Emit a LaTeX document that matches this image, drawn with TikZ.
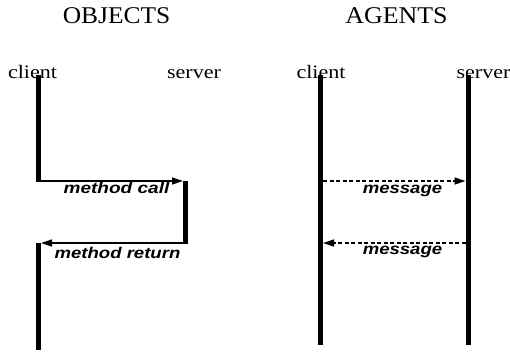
\documentclass[tikz,border=0pt]{standalone}
\usepackage{fontspec}
\setmainfont{Liberation Serif}
\newfontfamily\lsans{Liberation Sans}
\usetikzlibrary{arrows.meta}
\begin{document}
\begin{tikzpicture}[x=1pt,y=-1pt,
  title/.style={anchor=base,inner sep=0pt,font=\fontsize{24}{24}\selectfont},
  role/.style={anchor=base,inner sep=0pt,font=\fontsize{19}{19}\selectfont},
  msg/.style={anchor=base,inner sep=0pt,font=\lsans\bfseries\itshape\fontsize{15.6}{16}\selectfont},
  life/.style={line width=5pt,line cap=butt},
  call/.style={line width=1.3pt,-{Triangle[length=11pt,width=7pt]}},
  async/.style={call,dash pattern=on 4pt off 2.5pt}]
\useasboundingbox (0,0) rectangle (510,351);
% titles
\node[title] (t1) at (116.5,23) {\scalebox{1.06}[1]{OBJECTS}};
\node[title] (t2) at (396.5,23) {\scalebox{1.08}[1]{AGENTS}};
% roles
\node[role] (oclient) at (32.5,78) {\scalebox{1.16}[1]{client}};
\node[role] (oserver) at (194,78) {\scalebox{1.16}[1]{server}};
\node[role] (aclient) at (321,78) {\scalebox{1.16}[1]{client}};
\node[role] (aserver) at (483.5,78) {\scalebox{1.16}[1]{server}};
% objects lifelines
\coordinate (oc1) at (38,75);
\coordinate (oc2) at (38,181);
\coordinate (os1) at (185.5,181);
\coordinate (os2) at (185.5,243);
\coordinate (oc3) at (38,243);
\coordinate (oc4) at (38,350);
\draw[life] (oc1) -- (oc2);
\draw[life] (os1) -- (os2);
\draw[life] (oc3) -- (oc4);
\coordinate (callS) at (35.5,181);
\coordinate (callE) at (183,181);
\coordinate (retS) at (188,243);
\coordinate (retE) at (41,243);
\draw[call] (callS) -- (callE);
\draw[call] (retS) -- (retE);
\node[msg] (mcall) at (116.5,193) {\scalebox{1.22}[1]{method call}};
\node[msg] (mret) at (117.5,258) {\scalebox{1.19}[1]{method return}};
% agents lifelines
\coordinate (ac1) at (320.5,75);
\coordinate (ac2) at (320.5,345);
\coordinate (as1) at (468,75);
\coordinate (as2) at (468,345);
\draw[life] (ac1) -- (ac2);
\draw[life] (as1) -- (as2);
\coordinate (m1S) at (323,181);
\coordinate (m1E) at (465.5,181);
\coordinate (m2S) at (465.5,243);
\coordinate (m2E) at (323,243);
\draw[async] (m1S) -- (m1E);
\draw[async] (m2S) -- (m2E);
\node[msg] (msg1) at (402.5,193) {\scalebox{1.19}[1]{message}};
\node[msg] (msg2) at (402.5,254.5) {\scalebox{1.19}[1]{message}};
\end{tikzpicture}
\end{document}
